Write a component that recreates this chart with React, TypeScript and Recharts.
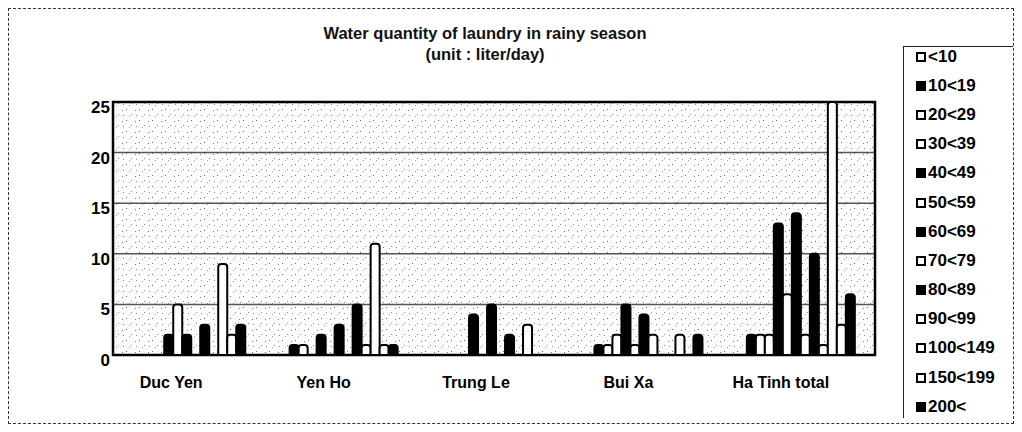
import React from 'react';
import { BarChart, Bar, XAxis, YAxis, CartesianGrid, ReferenceArea } from 'recharts';

const categories = ['Duc Yen', 'Yen Ho', 'Trung Le', 'Bui Xa', 'Ha Tinh total'];
const seriesNames = ['<10', '10<19', '20<29', '30<39', '40<49', '50<59', '60<69', '70<79', '80<89', '90<99', '100<149', '150<199', '200<'];
const yTicks = [0, 5, 10, 15, 20, 25];

const vLt10 = [0, 0, 0, 0, 0];
const v10_19 = [0, 1, 0, 1, 2];
const v20_29 = [0, 1, 0, 1, 2];
const v30_39 = [0, 0, 0, 2, 2];
const v40_49 = [2, 2, 4, 5, 13];
const v50_59 = [5, 0, 0, 1, 6];
const v60_69 = [2, 3, 5, 4, 14];
const v70_79 = [0, 0, 0, 2, 2];
const v80_89 = [3, 5, 2, 0, 10];
const v90_99 = [0, 1, 0, 0, 1];
const v100_149 = [9, 11, 3, 2, 25];
const v150_199 = [2, 1, 0, 0, 3];
const v200p = [3, 1, 0, 2, 6];

const seriesValues = [vLt10, v10_19, v20_29, v30_39, v40_49, v50_59, v60_69, v70_79, v80_89, v90_99, v100_149, v150_199, v200p];
const seriesDark = [false, true, false, false, true, false, true, false, true, false, false, false, true];

const data = categories.map((name, ci) => {
  const row: Record<string, any> = { name };
  seriesValues.forEach((vals, si) => {
    row['s' + si] = vals[ci];
  });
  return row;
});

const FONT = "'Liberation Sans', Arial, sans-serif";

export default function App() {
  return (
    <div
      style={{
        position: 'relative',
        width: 1006,
        height: 416,
        boxSizing: 'border-box',
        border: '1px dashed #333',
        fontFamily: FONT,
        background: '#fff',
      }}
    >
      <svg width="0" height="0" style={{ position: 'absolute' }}>
        <defs>
          <pattern id="speckle" width="13" height="11" patternUnits="userSpaceOnUse">
            <rect width="13" height="11" fill="#fcfcfc" />
            <rect x="1" y="2" width="1" height="1" fill="#666" />
            <rect x="6" y="7" width="1" height="1" fill="#888" />
            <rect x="10" y="3" width="1" height="1" fill="#777" />
            <rect x="4" y="9" width="1" height="1" fill="#999" />
            <rect x="11" y="8" width="1" height="1" fill="#888" />
          </pattern>
        </defs>
      </svg>
      <div
        style={{
          position: 'absolute',
          left: 276,
          top: 14,
          width: 400,
          textAlign: 'center',
          fontSize: 16.5,
          fontWeight: 'bold',
          lineHeight: '21px',
          color: '#111',
          fontFamily: FONT,
        }}
      >
        <div>Water quantity of laundry in rainy season</div>
        <div>(unit : liter/day)</div>
      </div>
      <div style={{ position: 'absolute', left: -1, top: -1 }}>
        <BarChart
          width={1006}
          height={416}
          data={data}
          margin={{ top: 94, right: 139, bottom: 39, left: 60 }}
          barCategoryGap="10%"
          barGap={0}
        >
          <CartesianGrid vertical={false} stroke="#555" strokeWidth={1.5} fill="url(#speckle)" fillOpacity={1} />
          <XAxis
            dataKey="name"
            height={30}
            axisLine={false}
            tickLine={false}
            tickSize={0}
            tickMargin={22}
            interval={0}
            tick={{ fontSize: 16, fontWeight: 'bold', fill: '#000', fontFamily: FONT, dx: -18 }}
          />
          <YAxis
            domain={[0, 25]}
            ticks={yTicks}
            width={45}
            axisLine={false}
            tickLine={false}
            tickSize={0}
            tickMargin={3}
            interval={0}
            tick={{ fontSize: 17, fontWeight: 'bold', fill: '#000', fontFamily: FONT, dy: 5 }}
          />
          <ReferenceArea y1={0} y2={25} fill="none" stroke="#000" strokeWidth={2.5} ifOverflow="visible" />
          {seriesNames.map((n, si) => (
            <Bar
              key={n}
              dataKey={'s' + si}
              name={n}
              fill={seriesDark[si] ? '#000' : '#fff'}
              stroke="#000"
              strokeWidth={2}
              radius={[3, 3, 0, 0]}
              isAnimationActive={false}
            />
          ))}
        </BarChart>
      </div>
      <div
        style={{
          position: 'absolute',
          left: 894,
          top: 37,
          width: 110,
          height: 372,
          boxSizing: 'border-box',
          border: '1px solid #222',
          borderRight: 'none',
          borderBottom: 'none',
          fontFamily: FONT,
        }}
      >
        <div style={{ marginTop: -5 }}>
          {seriesNames.map((n, si) => (
            <div key={n} style={{ height: 29.2, display: 'flex', alignItems: 'center' }}>
              <span
                style={{
                  display: 'inline-block',
                  width: 10,
                  height: 10,
                  boxSizing: 'border-box',
                  border: '2px solid #000',
                  background: seriesDark[si] ? '#000' : '#fff',
                  marginLeft: 12,
                  marginRight: 2,
                }}
              />
              <span style={{ fontSize: 17, fontWeight: 'bold', color: '#000' }}>{n}</span>
            </div>
          ))}
        </div>
      </div>
    </div>
  );
}
